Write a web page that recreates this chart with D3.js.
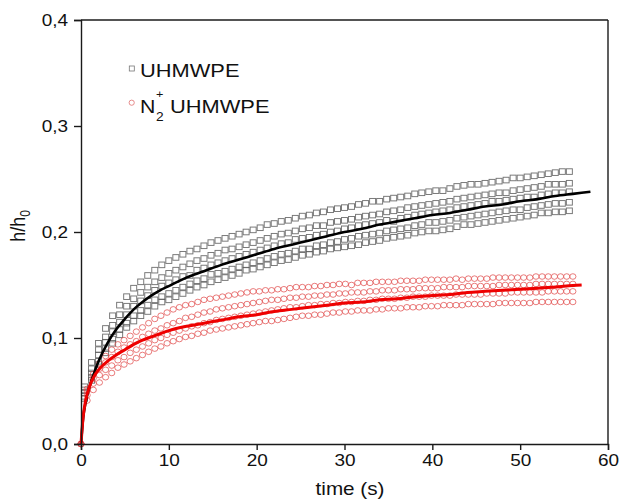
<!DOCTYPE html>
<html><head><meta charset="utf-8">
<script src="https://cdn.jsdelivr.net/npm/d3@7"></script>
<style>body{margin:0;background:#fff}svg{display:block}</style>
</head><body><svg id="c" width="622" height="499"></svg>
<script>
// ---------- data ----------
const xTicks=[0,10,20,30,40,50,60];
const xTickLabels=["0","10","20","30","40","50","60"];
const yTicks=[0,0.1,0.2,0.3,0.4];
const yTickLabels=["0,0","0,1","0,2","0,3","0,4"];
const xTitle="time (s)";
const legendNames=["UHMWPE","UHMWPE"];

// UHMWPE replicate measurements (squares)
const sqTime=[0.4,1.2,2.0,2.8,3.6,4.4,5.2,6.0,6.8,7.6,8.4,9.2,10.0,10.8,11.6,12.4,13.2,14.0,14.8,15.6,16.4,17.2,18.0,18.8,19.6,20.4,21.2,22.0,22.8,23.6,24.4,25.2,26.0,26.8,27.6,28.4,29.2,30.0,30.8,31.6,32.4,33.2,34.0,34.8,35.6,36.4,37.2,38.0,38.8,39.6,40.4,41.2,42.0,42.8,43.6,44.4,45.2,46.0,46.8,47.6,48.4,49.2,50.0,50.8,51.6,52.4,53.2,54.0,54.8,55.6];
const uhmwpe1=[0.054,0.077,0.095,0.109,0.121,0.131,0.139,0.147,0.153,0.159,
0.164,0.169,0.173,0.176,0.179,0.182,0.184,0.187,0.190,0.192,
0.194,0.196,0.198,0.200,0.202,0.204,0.207,0.208,0.210,0.211,
0.213,0.215,0.216,0.218,0.219,0.221,0.222,0.223,0.224,0.226,
0.227,0.229,0.229,0.231,0.232,0.233,0.234,0.236,0.237,0.238,
0.239,0.239,0.241,0.243,0.244,0.245,0.245,0.246,0.247,0.248,
0.249,0.251,0.251,0.252,0.253,0.254,0.255,0.256,0.257,0.257];
const uhmwpe2=[0.051,0.071,0.089,0.101,0.112,0.122,0.130,0.137,0.143,0.148,
0.153,0.157,0.161,0.164,0.167,0.170,0.173,0.175,0.178,0.180,
0.183,0.184,0.186,0.188,0.190,0.192,0.194,0.196,0.198,0.199,
0.201,0.203,0.204,0.206,0.206,0.209,0.210,0.211,0.212,0.214,
0.215,0.216,0.217,0.219,0.220,0.221,0.223,0.224,0.225,0.226,
0.227,0.228,0.229,0.231,0.232,0.233,0.234,0.235,0.236,0.237,
0.237,0.239,0.240,0.241,0.242,0.243,0.245,0.245,0.245,0.246];
const uhmwpe3=[0.048,0.067,0.084,0.096,0.106,0.115,0.122,0.130,0.135,0.140,
0.145,0.149,0.152,0.155,0.158,0.159,0.164,0.166,0.169,0.171,
0.173,0.175,0.177,0.179,0.181,0.183,0.185,0.187,0.189,0.190,
0.193,0.194,0.195,0.197,0.198,0.200,0.201,0.203,0.204,0.206,
0.207,0.208,0.209,0.211,0.210,0.213,0.214,0.216,0.217,0.218,
0.219,0.220,0.221,0.223,0.224,0.225,0.226,0.227,0.229,0.229,
0.230,0.231,0.232,0.233,0.233,0.235,0.236,0.237,0.237,0.238];
const uhmwpe4=[0.045,0.063,0.078,0.090,0.099,0.108,0.114,0.121,0.126,0.131,
0.136,0.139,0.142,0.145,0.148,0.151,0.154,0.156,0.160,0.161,
0.163,0.165,0.167,0.169,0.171,0.173,0.175,0.177,0.179,0.180,
0.182,0.184,0.184,0.187,0.188,0.190,0.191,0.193,0.194,0.196,
0.197,0.198,0.199,0.201,0.202,0.203,0.204,0.206,0.207,0.209,
0.209,0.210,0.211,0.213,0.214,0.215,0.216,0.217,0.218,0.219,
0.220,0.221,0.221,0.223,0.224,0.225,0.226,0.227,0.227,0.228];
const uhmwpe5=[0.043,0.060,0.075,0.086,0.095,0.103,0.110,0.116,0.121,0.125,
0.130,0.134,0.136,0.139,0.142,0.145,0.148,0.150,0.153,0.155,
0.157,0.159,0.161,0.164,0.165,0.167,0.169,0.171,0.173,0.174,
0.176,0.178,0.179,0.181,0.182,0.184,0.185,0.186,0.187,0.188,
0.190,0.191,0.192,0.194,0.195,0.196,0.197,0.199,0.200,0.201,
0.201,0.202,0.203,0.205,0.207,0.207,0.208,0.209,0.210,0.211,
0.212,0.213,0.214,0.215,0.216,0.218,0.218,0.219,0.219,0.220];

// N2+ UHMWPE replicate measurements (circles)
const ciTime=[0,0.7,1.4,2.1,2.8,3.5,4.2,4.9,5.6,6.3,7.0,7.7,8.4,9.1,9.8,10.5,11.2,11.9,12.6,13.3,14.0,14.7,15.4,16.1,16.8,17.5,18.2,18.9,19.6,20.3,21.0,21.7,22.4,23.1,23.8,24.5,25.2,25.9,26.6,27.3,28.0,28.7,29.4,30.1,30.8,31.5,32.2,32.9,33.6,34.3,35.0,35.7,36.4,37.1,37.8,38.5,39.2,39.9,40.6,41.3,42.0,42.7,43.4,44.1,44.8,45.5,46.2,46.9,47.6,48.3,49.0,49.7,50.4,51.1,51.8,52.5,53.2,53.9,54.6,55.3,56.0];
const n2uhmwpe1=[0,0.052,0.066,0.076,0.083,0.089,0.094,0.098,0.102,0.106,
0.110,0.114,0.118,0.121,0.124,0.127,0.129,0.131,0.132,0.134,
0.136,0.137,0.138,0.139,0.140,0.141,0.142,0.143,0.144,0.144,
0.145,0.145,0.146,0.146,0.147,0.148,0.148,0.148,0.149,0.149,
0.150,0.150,0.151,0.151,0.150,0.152,0.152,0.152,0.153,0.153,
0.153,0.153,0.154,0.154,0.154,0.154,0.155,0.155,0.155,0.155,
0.155,0.156,0.155,0.156,0.156,0.156,0.156,0.157,0.157,0.157,
0.157,0.157,0.157,0.157,0.158,0.158,0.158,0.158,0.158,0.158,
0.158];
const n2uhmwpe2=[0,0.050,0.062,0.071,0.077,0.082,0.087,0.091,0.094,0.097,
0.101,0.104,0.107,0.109,0.112,0.114,0.116,0.119,0.120,0.122,
0.124,0.125,0.127,0.128,0.129,0.130,0.131,0.132,0.133,0.134,
0.135,0.136,0.136,0.137,0.138,0.138,0.139,0.139,0.140,0.140,
0.141,0.141,0.142,0.142,0.143,0.143,0.143,0.144,0.144,0.145,
0.145,0.145,0.146,0.146,0.146,0.147,0.147,0.147,0.147,0.148,
0.148,0.148,0.148,0.149,0.149,0.149,0.149,0.149,0.150,0.150,
0.150,0.150,0.150,0.150,0.151,0.151,0.151,0.151,0.151,0.151,
0.151];
const n2uhmwpe3=[0,0.046,0.057,0.065,0.070,0.074,0.079,0.082,0.086,0.089,
0.092,0.095,0.098,0.100,0.103,0.105,0.107,0.109,0.111,0.112,
0.114,0.115,0.117,0.118,0.119,0.120,0.121,0.122,0.123,0.124,
0.125,0.126,0.127,0.128,0.129,0.129,0.130,0.131,0.131,0.132,
0.132,0.133,0.133,0.134,0.134,0.135,0.135,0.136,0.136,0.137,
0.137,0.137,0.138,0.138,0.139,0.139,0.139,0.140,0.140,0.140,
0.140,0.141,0.141,0.141,0.141,0.141,0.142,0.142,0.142,0.142,
0.143,0.143,0.143,0.143,0.143,0.143,0.144,0.144,0.144,0.144,
0.144];
const n2uhmwpe4=[0,0.041,0.051,0.058,0.063,0.067,0.072,0.075,0.078,0.081,
0.084,0.087,0.090,0.092,0.095,0.097,0.099,0.101,0.102,0.104,
0.105,0.107,0.108,0.109,0.110,0.111,0.112,0.113,0.114,0.115,
0.116,0.116,0.117,0.118,0.119,0.120,0.121,0.121,0.122,0.122,
0.123,0.124,0.124,0.125,0.125,0.126,0.126,0.126,0.127,0.127,
0.128,0.128,0.128,0.129,0.129,0.129,0.130,0.130,0.130,0.131,
0.131,0.131,0.131,0.132,0.132,0.132,0.132,0.132,0.133,0.133,
0.133,0.133,0.133,0.133,0.134,0.134,0.134,0.134,0.134,0.134,
0.134];

// fitted curves
const fitBlackT=[0,0.25,0.5,1,1.5,2,3,4,5,6,7,8,9,10,12,14,16,18,20,22,24,26,28,30,32,34,36,38,40,42,44,46,48,50,52,54,56,58];
const fitBlackY=[0,0.025,0.038,0.055,0.067,0.078,0.095,0.108,0.118,0.127,0.134,0.140,0.145,0.149,0.157,0.163,0.169,0.174,0.179,0.184,0.188,0.192,0.196,0.200,0.203,0.207,0.210,0.213,0.216,0.218,0.221,0.224,0.226,0.229,0.231,0.234,0.236,0.238];
const fitRedT=[0,0.25,0.5,1,1.5,2,3,4,5,6,7,8,9,10,12,14,16,18,20,22,24,26,28,30,32,34,36,38,40,42,44,46,48,50,52,54,56,57];
const fitRedY=[0,0.026,0.040,0.055,0.064,0.070,0.078,0.084,0.089,0.094,0.098,0.101,0.104,0.107,0.111,0.114,0.117,0.120,0.122,0.125,0.127,0.129,0.131,0.133,0.134,0.136,0.137,0.139,0.140,0.141,0.143,0.144,0.145,0.146,0.147,0.148,0.1495,0.150];

// ---------- drawing ----------
const FONT='"Liberation Sans", Arial, Helvetica, sans-serif';
const SX=1.15;
const svg=d3.select("#c");
const L=81,R=608,T=20,B=444;
const x=d3.scaleLinear().domain([0,60]).range([L,R]);
const y=d3.scaleLinear().domain([0,0.4]).range([B,T]);

const sqSeries=[uhmwpe1,uhmwpe2,uhmwpe3,uhmwpe4,uhmwpe5];
const ciSeries=[n2uhmwpe1,n2uhmwpe2,n2uhmwpe3,n2uhmwpe4];
const pairs=(ts,vs)=>d3.range(Math.min(ts.length,vs.length)).map(i=>[ts[i],vs[i]]);

const gData=svg.append("g");
sqSeries.forEach(s=>{
  gData.append("g").selectAll("rect").data(pairs(sqTime,s)).join("rect")
    .attr("x",d=>x(d[0])-3).attr("y",d=>y(d[1])-2.8).attr("width",6).attr("height",5.6)
    .attr("fill","none").attr("stroke","#5c5c5c").attr("stroke-width",0.95).attr("stroke-opacity",0.85);
});
ciSeries.forEach(s=>{
  gData.append("g").selectAll("ellipse").data(pairs(ciTime,s)).join("ellipse")
    .attr("cx",d=>x(d[0])).attr("cy",d=>y(d[1])).attr("rx",3.1).attr("ry",2.8)
    .attr("fill","none").attr("stroke","#e04848").attr("stroke-width",0.9).attr("stroke-opacity",0.8);
});
const line=d3.line().x(d=>x(d[0])).y(d=>y(d[1])).curve(d3.curveMonotoneX);
gData.append("path").attr("d",line(pairs(fitBlackT,fitBlackY)))
  .attr("fill","none").attr("stroke","#000").attr("stroke-width",2.6);
gData.append("path").attr("d",line(pairs(fitRedT,fitRedY)))
  .attr("fill","none").attr("stroke","#ee0000").attr("stroke-width",3);

// axes
const axC="#1a1a1a";
const gy=svg.append("g").attr("transform",`translate(${L},0)`)
  .call(d3.axisLeft(y).tickValues(yTicks).tickFormat((d,i)=>yTickLabels[i]).tickSize(7).tickPadding(4));
const gx=svg.append("g").attr("transform",`translate(0,${B})`)
  .call(d3.axisBottom(x).tickValues(xTicks).tickFormat((d,i)=>xTickLabels[i]).tickSize(6).tickPadding(4));
[gx,gy].forEach(g=>{
  g.select(".domain").attr("stroke",axC).attr("stroke-width",1.4);
  g.selectAll(".tick line").attr("stroke",axC).attr("stroke-width",1.4);
  g.selectAll(".tick text").attr("fill","#111").style("font-family",FONT).style("font-size","16.5px");
});
gy.selectAll(".tick text").attr("x",-13/SX).attr("transform",`scale(${SX},1)`);
gx.selectAll(".tick text").attr("transform",`scale(${SX},1)`);
// frame
svg.append("line").attr("x1",L).attr("x2",R).attr("y1",T).attr("y2",T).attr("stroke",axC).attr("stroke-width",1.4);
svg.append("line").attr("x1",R).attr("x2",R).attr("y1",T).attr("y2",B).attr("stroke",axC).attr("stroke-width",1.4);

// titles
svg.append("text").attr("transform",`translate(350,495) scale(${SX},1)`).attr("text-anchor","middle")
  .style("font-family",FONT).style("font-size","18px").attr("fill","#111").text(xTitle);
const yt=svg.append("text").attr("transform",`translate(25,226) scale(${SX},1) rotate(-90)`).attr("text-anchor","middle")
  .style("font-family",FONT).style("font-size","18px").attr("fill","#111");
yt.append("tspan").text("h/h");
yt.append("tspan").attr("dy",4).style("font-size","12px").text("0");

// legend
svg.append("rect").attr("x",129.3).attr("y",66).attr("width",5).attr("height",5)
  .attr("fill","none").attr("stroke","#777").attr("stroke-width",0.8);
svg.append("text").attr("transform",`translate(140,77) scale(${SX},1)`)
  .style("font-family",FONT).style("font-size","19px").attr("fill","#111").text(legendNames[0]);
svg.append("circle").attr("cx",131.7).attr("cy",102.7).attr("r",2.6)
  .attr("fill","none").attr("stroke","#e07070").attr("stroke-width",0.8);
svg.append("text").attr("transform",`translate(140,113) scale(${SX},1)`)
  .style("font-family",FONT).style("font-size","18.5px").attr("fill","#111").text("N");
svg.append("text").attr("transform",`translate(156,98) scale(${SX},1)`)
  .style("font-family",FONT).style("font-size","11px").attr("fill","#111").text("+");
svg.append("text").attr("transform",`translate(156,121) scale(${SX},1)`)
  .style("font-family",FONT).style("font-size","12px").attr("fill","#111").text("2");
svg.append("text").attr("transform",`translate(170,113) scale(${SX},1)`)
  .style("font-family",FONT).style("font-size","19px").attr("fill","#111").text(legendNames[1]);
</script></body></html>
